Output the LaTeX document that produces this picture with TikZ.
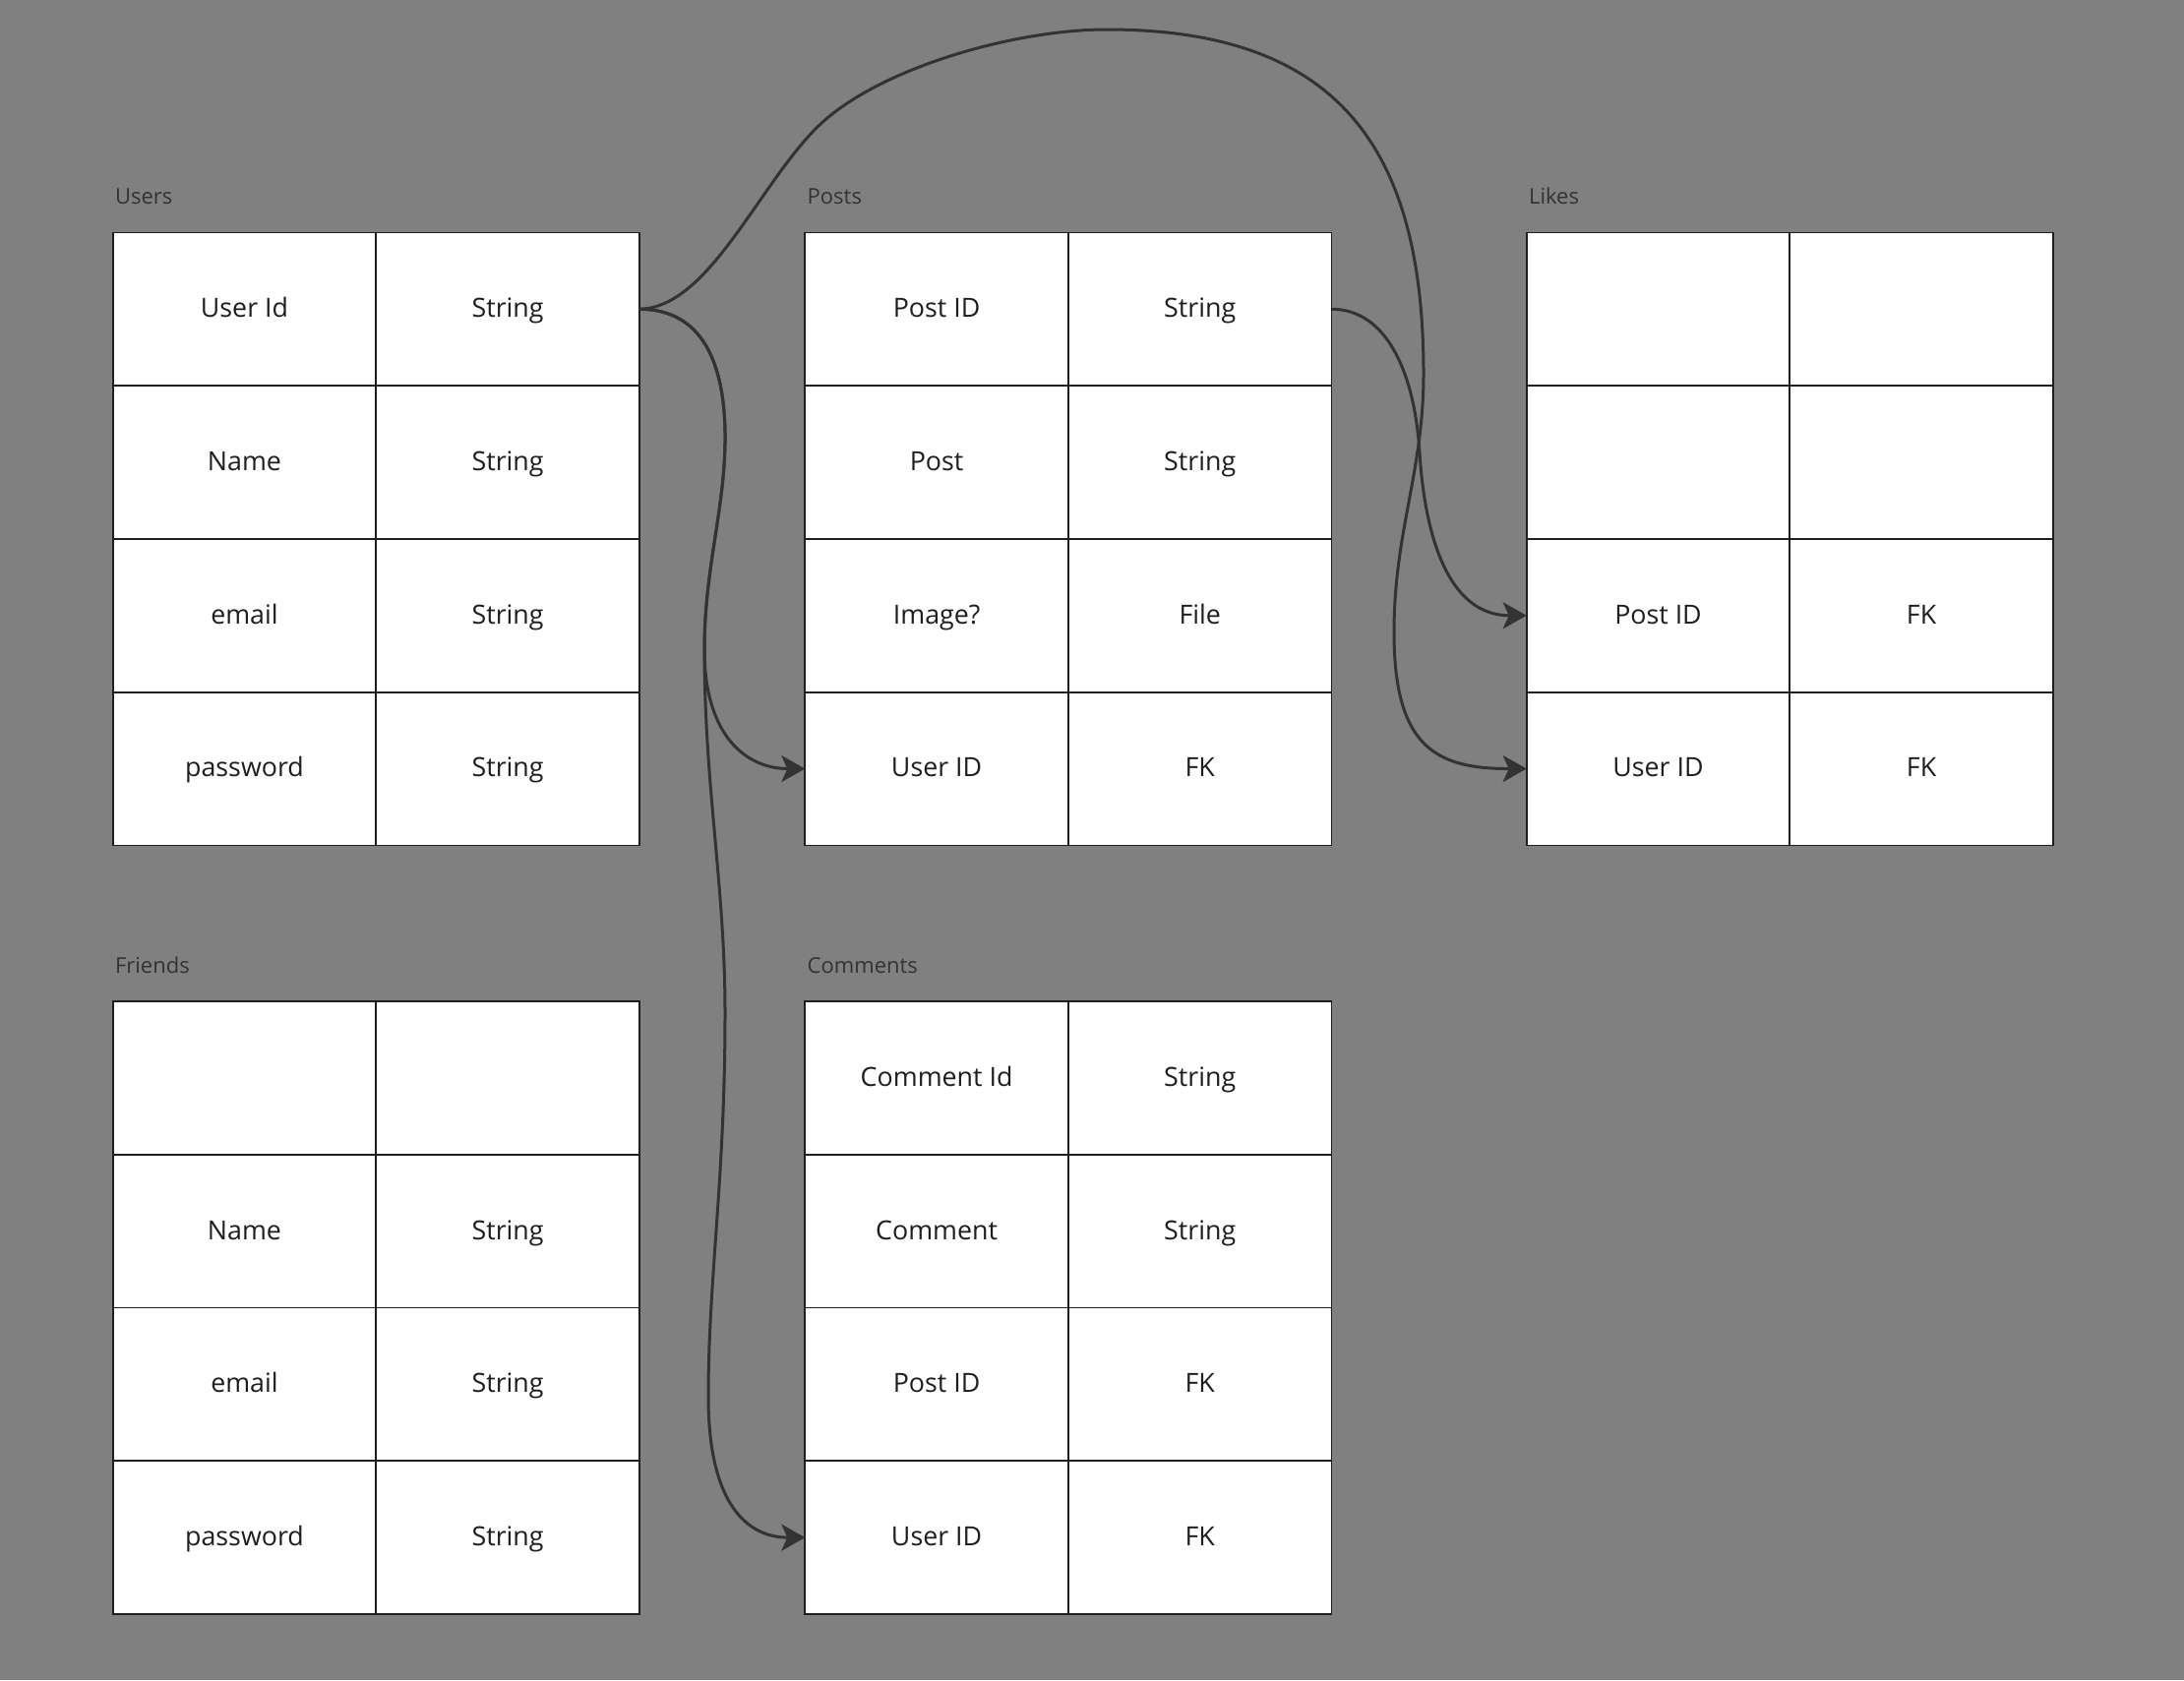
\documentclass[tikz,border=0pt]{standalone}
\usepackage{fontspec}
\setmainfont{Open Sans}
\usetikzlibrary{arrows.meta}
\definecolor{bggray}{HTML}{808080}
\definecolor{linegray}{HTML}{333333}
\definecolor{celltext}{HTML}{1E1E1E}
\definecolor{titletext}{HTML}{333333}
\tikzset{
  cell/.style={draw=black!88, line width=0.9pt, fill=white, minimum width=133.8pt, minimum height=77.875pt,
    inner sep=0pt, outer sep=0pt, text=celltext, font=\fontsize{13.4}{16}\selectfont,
    text height=9.6pt, text depth=1.2pt},
  tabtitle/.style={anchor=base west, inner sep=0pt, text=titletext, font=\fontsize{11}{13}\selectfont},
  conn/.style={draw=linegray, line width=1.5pt, -{Stealth[length=12pt, width=13.5pt, inset=3pt]}}
}
\newcommand{\erdtab}[5]{%
  \node[tabtitle] (#1-title) at (#2+2, #3-29) {#4};
  \foreach \lft/\rgt [count=\i] in {#5} {
    \node[cell] (#1-\i-1) at ({#2+133.8}, {#3+77.875+(\i-1)*155.75}) {\lft};
    \node[cell] (#1-\i-2) at ({#2+401.4}, {#3+77.875+(\i-1)*155.75}) {\rgt};
  }%
}
\begin{document}
\begin{tikzpicture}[x=0.5pt, y=-0.5pt]
\useasboundingbox (0,0) rectangle (2220,1708);
\fill[bggray] (0,0) rectangle (2220,1708);

\erdtab{u}{114.7}{236.4}{Users}{User Id/String, Name/String, email/String, password/String}
\erdtab{p}{818.3}{236.4}{Posts}{Post ID/String, Post/String, Image?/File, User ID/FK}
\erdtab{l}{1551.7}{236.4}{Likes}{{}/{}, {}/{}, Post ID/FK, User ID/FK}
\erdtab{f}{114.7}{1018}{Friends}{{}/{}, Name/String, email/String, password/String}
\erdtab{c}{818.3}{1018}{Comments}{Comment Id/String, Comment/String, Post ID/FK, User ID/FK}

% Users.UserId -> Likes.UserID (over the top)
\draw[conn] (u-1-2.east) .. controls (720,313) and (770,190) .. (830,130)
  .. controls (890,70) and (1030,30) .. (1125,30)
  .. controls (1360,30) and (1447,150) .. (1447,380)
  .. controls (1447,480) and (1417,540) .. (1417,643)
  .. controls (1417,760) and (1460,781.55) .. (l-4-1.west);

% Posts.PostID -> Likes.PostID
\draw[conn] (p-1-2.east) .. controls (1410,314.3) and (1438,380) .. (1443,460)
  .. controls (1448,540) and (1470,625.8) .. (l-3-1.west);

% Users.UserId -> Posts.UserID
\draw[conn] (u-1-2.east) .. controls (720,314.3) and (738,380) .. (737,450)
  .. controls (736,520) and (716,580) .. (716,660)
  .. controls (716,750) and (760,781.55) .. (p-4-1.west);

% Users.UserId -> Comments.UserID
\draw[conn] (u-1-2.east) .. controls (720,314.3) and (738,380) .. (737,450)
  .. controls (736,520) and (716,580) .. (716,660)
  .. controls (716,800) and (737,900) .. (737,1030)
  .. controls (737,1200) and (720,1300) .. (720,1420)
  .. controls (720,1530) and (760,1563.1) .. (c-4-1.west);
\end{tikzpicture}
\end{document}
